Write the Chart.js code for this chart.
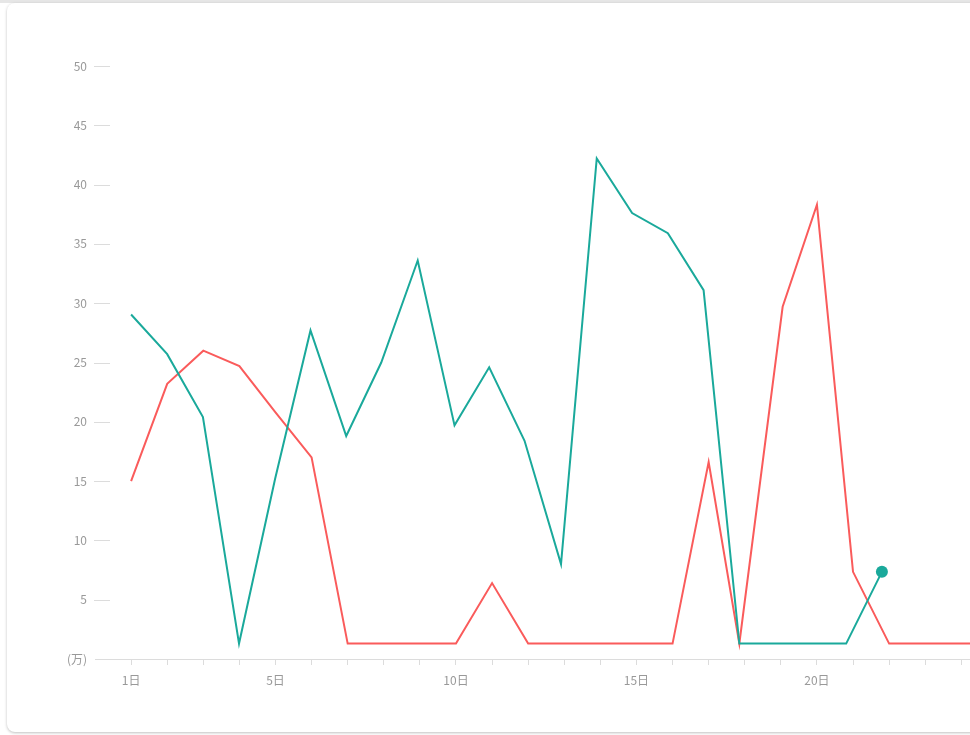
<!DOCTYPE html>
<html>
<head>
<meta charset="utf-8">
<script src="https://cdn.jsdelivr.net/npm/chart.js@4"></script>
<style>
  html, body { margin: 0; padding: 0; background: #fff; overflow: hidden; }
  #strip { position: absolute; left: 0; top: 0; width: 100%; height: 3px; background: #e6e6e6; }
  #card {
    position: absolute; left: 7px; top: 3px; width: 1400px; height: 729px;
    background: #fff; border-radius: 8px;
    box-shadow: 0 1px 3px rgba(0,0,0,0.25);
  }
  #wrap { position: absolute; left: 0; top: 0; width: 1230px; height: 735px; }
</style>
</head>
<body>
<div id="strip"></div>
<div id="card"></div>
<div id="wrap"><canvas id="chart"></canvas></div>
<script>
// days of the month
const days = [];
for (let d = 1; d <= 31; d++) days.push(d + '日');
const shownDays = ['1日', '5日', '10日', '15日', '20日', '25日', '30日'];

// this month (up to day 22), unit: 万; time of each record in days
const thisMonthAt = [1, 2, 2.99, 3.99, 4.99, 5.97, 6.96, 7.93, 8.94, 9.96, 10.92, 11.9, 12.91, 13.9,
  14.88, 15.87, 16.86, 17.85, 18.83, 19.82, 20.81, 21.8];
const thisMonth = [29.05, 25.7, 20.4, 1.3, 15.2, 27.7, 18.8, 25.0, 33.6, 19.7, 24.6, 18.4, 8.0, 42.2,
  37.6, 35.9, 31.1, 1.3, 1.3, 1.3, 1.3, 7.35];

// last month
const lastMonthAt = [1, 2, 3, 4, 5, 6, 7, 8, 9, 10, 11, 12, 13, 14, 15, 16, 17, 17.85, 19.05, 20, 21,
  22, 23, 24, 25, 26, 27, 28, 29, 30, 31];
const lastMonth = [15.0, 23.2, 26.0, 24.7, 20.8, 17.0, 1.3, 1.3, 1.3, 1.3, 6.4, 1.3, 1.3, 1.3, 1.3, 1.3,
  16.6, 1.3, 29.7, 38.3, 7.35, 1.3, 1.3, 1.3, 1.3, 1.3, 1.3, 1.3, 1.3, 1.3, 1.3];

const yTicks = [0, 5, 10, 15, 20, 25, 30, 35, 40, 45, 50];

const teal = '#1aa99b';
const red = '#fa5b5b';
const axisGrey = '#dcdcdc';
const labelGrey = '#999';
const fontFamily = '"Noto Sans CJK SC", "Microsoft YaHei", sans-serif';

// leading blank slot keeps the gap between the axis start and day 1
const labels = [''].concat(days);

function points(at, vals) {
  return vals.map((v, i) => ({ x: at[i], y: v }));
}

// y tick marks drawn inside the left edge of the plot
const yMarks = {
  id: 'yMarks',
  afterDraw(chart) {
    const ctx = chart.ctx;
    const y = chart.scales.y;
    const left = chart.chartArea.left;
    ctx.save();
    ctx.strokeStyle = axisGrey;
    ctx.lineWidth = 1;
    y.ticks.forEach(t => {
      if (t.value === 0) return;
      const py = Math.round(y.getPixelForValue(t.value)) + 0.5;
      ctx.beginPath();
      ctx.moveTo(left - 1, py);
      ctx.lineTo(left + 15, py);
      ctx.stroke();
    });
    ctx.restore();
  }
};

const ctx = document.getElementById('chart').getContext('2d');
new Chart(ctx, {
  type: 'line',
  data: {
    labels: labels,
    datasets: [{
      label: '本月',
      data: points(thisMonthAt, thisMonth),
      xAxisID: 'xv',
      borderColor: teal,
      backgroundColor: teal,
      borderWidth: 2,
      tension: 0,
      pointRadius: c => (c.dataIndex === thisMonth.length - 1 ? 6 : 0),
      pointHoverRadius: 6,
      pointBorderWidth: 0
    }, {
      label: '上月',
      data: points(lastMonthAt, lastMonth),
      xAxisID: 'xv',
      borderColor: red,
      backgroundColor: red,
      borderWidth: 2,
      tension: 0,
      pointRadius: 0
    }]
  },
  options: {
    responsive: true,
    maintainAspectRatio: false,
    animation: false,
    layout: { padding: { left: 0, right: 16, top: 66, bottom: 0 } },
    plugins: {
      legend: { display: false },
      tooltip: { enabled: false }
    },
    scales: {
      x: {
        type: 'category',
        offset: false,
        afterFit: s => { s.height = 76; },
        border: { display: true, color: axisGrey, width: 1 },
        grid: {
          drawOnChartArea: false,
          tickLength: 6,
          color: c => (c.index === 0 ? 'rgba(0,0,0,0)' : axisGrey)
        },
        ticks: {
          autoSkip: false,
          maxRotation: 0,
          padding: 8,
          color: labelGrey,
          font: { family: fontFamily, size: 12 },
          callback: function (v, i) {
            const l = labels[i];
            return shownDays.includes(l) ? l : '';
          }
        }
      },
      xv: {
        type: 'linear',
        display: false,
        min: 0,
        max: days.length
      },
      y: {
        min: 0,
        max: 50,
        afterFit: s => { s.width = 95; },
        afterBuildTicks: s => { s.ticks = yTicks.map(v => ({ value: v })); },
        border: { display: false },
        grid: { display: false, drawTicks: false },
        ticks: {
          padding: 8,
          color: labelGrey,
          font: { family: fontFamily, size: 12 },
          callback: v => (v === 0 ? '(万)' : v)
        }
      }
    }
  },
  plugins: [yMarks]
});
</script>
</body>
</html>
